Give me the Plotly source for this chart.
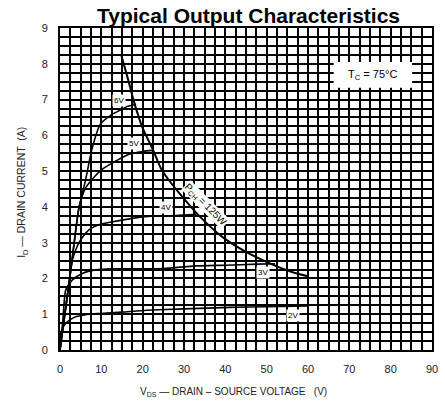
import plotly.graph_objects as go

# ---- data ----
vgs6_v = [0, 2.3, 4.5, 6.2, 7.7, 9.7, 12.5, 14.5, 16.4, 18.4]
vgs6_i = [0, 1.95, 3.92, 4.76, 5.6, 6.3, 6.58, 6.7, 6.81, 6.87]

vgs5_v = [0, 2.3, 4.5, 5.2, 6.3, 7.7, 10.1, 13.0, 16.4, 20.0, 22.6]
vgs5_i = [0, 1.95, 3.92, 4.25, 4.55, 4.76, 5.04, 5.25, 5.46, 5.55, 5.58]

vgs4_v = [0, 1.5, 3.0, 4.0, 5.0, 7.0, 9.4, 12.1, 17.5, 22.0, 28.0, 33.0]
vgs4_i = [0, 1.3, 2.52, 2.85, 3.08, 3.36, 3.5, 3.57, 3.68, 3.74, 3.76, 3.79]

vgs3_v = [0, 0.7, 1.4, 3.0, 5.4, 8.6, 12.5, 17.5, 25.0, 33.0, 40.0, 47.6, 52.0]
vgs3_i = [0, 0.85, 1.68, 1.96, 2.14, 2.24, 2.27, 2.27, 2.28, 2.35, 2.37, 2.4, 2.41]

vgs2_v = [0, 0.15, 0.6, 1.4, 2.5, 3.8, 5.5, 7.0, 9.5, 15, 21, 30, 41, 50, 60]
vgs2_i = [0, 0.45, 0.6, 0.75, 0.85, 0.93, 0.97, 1.0, 1.02, 1.06, 1.11, 1.15, 1.19, 1.21, 1.23]

pd_v = [14.8, 16.5, 18.0, 20.0, 22.4, 24.4, 26.0, 29.1, 33.9, 39.5, 45.0, 49.8, 56.1, 60.0]
pd_i = [8.25, 7.55, 6.9, 6.2, 5.62, 5.08, 4.8, 4.35, 3.72, 3.14, 2.74, 2.47, 2.18, 2.06]

curve_labels = ["6V", "5V", "4V", "3V", "2V"]
label_v = [14.3, 17.9, 25.6, 49.0, 56.3]
label_i = [6.98, 5.78, 3.98, 2.16, 0.97]

x_ticks = [0, 10, 20, 30, 40, 50, 60, 70, 80, 90]
y_ticks = [0, 1, 2, 3, 4, 5, 6, 7, 8, 9]

FONT = "Liberation Sans Narrow, Liberation Sans, Arial, sans-serif"

fig = go.Figure()
for v, i in [(vgs6_v, vgs6_i), (vgs5_v, vgs5_i), (vgs4_v, vgs4_i),
             (vgs3_v, vgs3_i), (vgs2_v, vgs2_i)]:
    fig.add_trace(go.Scatter(x=v, y=i, mode="lines",
                             line=dict(color="black", width=1.6, shape="spline", smoothing=0.6),
                             showlegend=False, hoverinfo="skip"))
fig.add_trace(go.Scatter(x=pd_v, y=pd_i, mode="lines",
                         line=dict(color="black", width=2, shape="spline", smoothing=0.6),
                         showlegend=False, hoverinfo="skip"))

annotations = []
for t, v, i in zip(curve_labels, label_v, label_i):
    annotations.append(dict(x=v, y=i, xref="x", yref="y", text=t, showarrow=False,
                            font=dict(family=FONT, size=8, color="black"),
                            bgcolor="white", borderpad=1))
annotations.append(dict(x=35.3, y=4.05, xref="x", yref="y", text="P<sub>CH</sub> = 125W",
                        showarrow=False, textangle=45,
                        font=dict(family=FONT, size=10, color="black"), bgcolor="white", borderpad=0))
annotations.append(dict(x=75.7, y=7.69, xref="x", yref="y", text="T<sub>C</sub> = 75°C",
                        showarrow=False, font=dict(family=FONT, size=11, color="black")))
annotations.append(dict(x=0.508, y=1.040, xref="paper", yref="paper",
                        text="<b>Typical Output Characteristics</b>",
                        showarrow=False, xanchor="center", yanchor="middle",
                        font=dict(family="Liberation Sans, Arial, sans-serif", size=21, color="black")))
annotations.append(dict(x=-0.1005, y=0.49, xref="paper", yref="paper",
                        text="I<sub>D</sub> — DRAIN CURRENT  (A)", textangle=-90, showarrow=False,
                        xanchor="center", yanchor="middle",
                        font=dict(family=FONT, size=10.5, color="#222")))
annotations.append(dict(x=0.466, y=-0.130, xref="paper", yref="paper",
                        text="V<sub>DS</sub> — DRAIN – SOURCE VOLTAGE   (V)", showarrow=False,
                        xanchor="center", yanchor="middle",
                        font=dict(family=FONT, size=10, color="#222")))

fig.update_layout(
    width=445, height=406,
    margin=dict(l=60, r=7, t=28, b=56),
    paper_bgcolor="white", plot_bgcolor="white",
    annotations=annotations,
    shapes=[dict(type="rect", xref="x", yref="y", x0=66.2, x1=85.2, y0=7.33, y1=8.05,
                 fillcolor="white", line=dict(width=0), layer="between")],
)
fig.update_xaxes(range=[0, 90], tickvals=x_ticks, ticktext=[str(t) for t in x_ticks],
                 showgrid=True, gridcolor="black", gridwidth=2,
                 minor=dict(dtick=2.5, showgrid=True, gridcolor="black", gridwidth=2),
                 showline=True, linecolor="black", linewidth=2, mirror=True, zeroline=False,
                 ticks="", ticklabelstandoff=8,
                 tickfont=dict(family="Liberation Sans, Arial, sans-serif", size=11, color="#222"))
fig.update_yaxes(range=[0, 9], tickvals=y_ticks, ticktext=[str(t) for t in y_ticks],
                 showgrid=True, gridcolor="black", gridwidth=2,
                 minor=dict(dtick=0.25, showgrid=True, gridcolor="black", gridwidth=2),
                 showline=True, linecolor="black", linewidth=2, mirror=True, zeroline=False,
                 ticks="", ticklabelstandoff=8,
                 tickfont=dict(family="Liberation Sans, Arial, sans-serif", size=11, color="#222"))

# remove the browser's default 8 px body margin so the figure fills the window
fig.write_html("out.html", config={"displayModeBar": False},
               post_script="document.body.style.margin='0';")
